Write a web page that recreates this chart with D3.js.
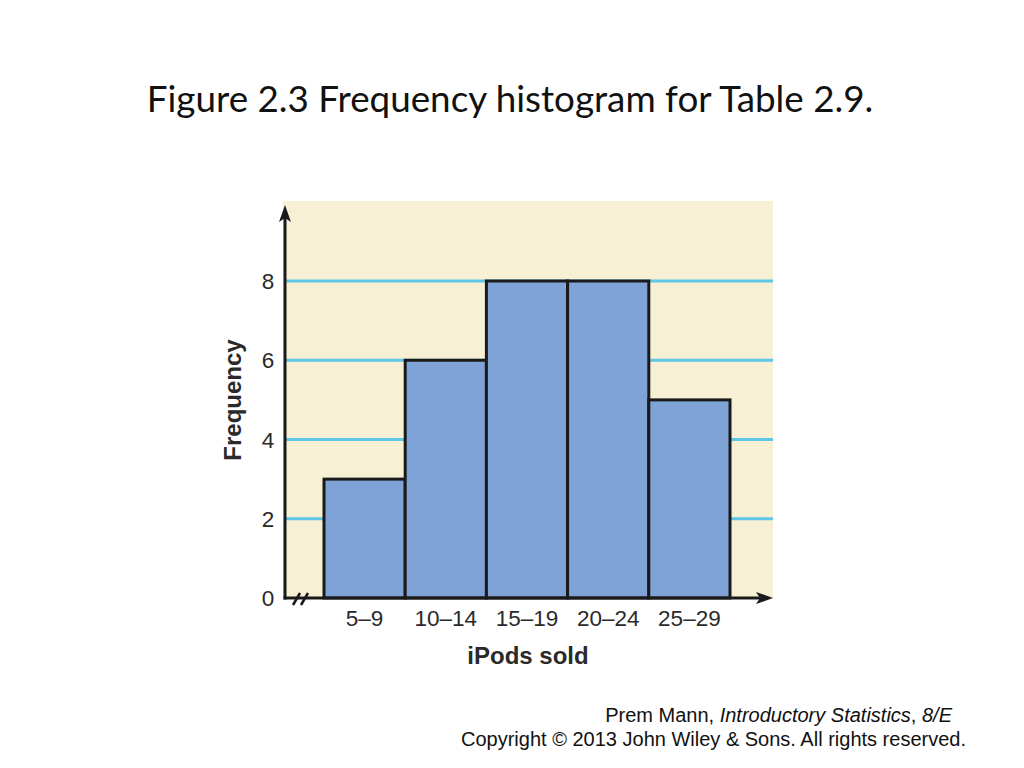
<!DOCTYPE html>
<html>
<head>
<meta charset="utf-8">
<script src="https://cdn.jsdelivr.net/npm/d3@7"></script>
<style>
  body { margin: 0; background: #fff; }
  svg { display: block; }
</style>
</head>
<body>
<svg id="chart" width="1024" height="768"></svg>
<script>
const classes = ['5–9', '10–14', '15–19', '20–24', '25–29']
const frequencies = [3, 6, 8, 8, 5]
const yTicks = [0, 2, 4, 6, 8]

const svg = d3.select('#chart')

// plot frame (pixels)
const plotLeft = 285, plotRight = 773, plotTop = 201, plotBottom = 598

const xScale = d3.scaleBand().domain(classes).range([324, 730]).padding(0)
const yScale = d3.scaleLinear().domain([0, 8]).range([plotBottom, 281])

svg.append('text')
    .attr('x', 510)
    .attr('y', 112)
    .attr('text-anchor', 'middle')
    .style('font-family', 'Lato, Carlito, sans-serif')
    .style('font-size', '36.8px')
    .style('fill', '#111')
    .text('Figure 2.3 Frequency histogram for Table 2.9.')

// panel background
svg.append('rect')
    .attr('x', plotLeft - 2).attr('y', plotTop)
    .attr('width', plotRight - plotLeft + 2).attr('height', plotBottom - plotTop)
    .style('fill', '#f7f0d4')

// gridlines
svg.append('g')
    .selectAll('line')
    .data(yTicks.filter(d => d > 0))
    .enter()
    .append('line')
    .attr('x1', plotLeft).attr('x2', plotRight)
    .attr('y1', d => yScale(d)).attr('y2', d => yScale(d))
    .style('stroke', '#5ec6e6')
    .style('stroke-width', 3)

// bars
svg.append('g')
    .selectAll('rect')
    .data(frequencies)
    .enter()
    .append('rect')
    .attr('x', (d, i) => xScale(classes[i]))
    .attr('y', d => yScale(d))
    .attr('width', xScale.bandwidth())
    .attr('height', d => yScale(0) - yScale(d))
    .style('fill', '#7fa3d6')
    .style('stroke', '#1a1a1a')
    .style('stroke-width', 3)

// axes
const axisG = svg.append('g').style('stroke', '#1a1a1a').style('stroke-width', 3)
axisG.append('line').attr('x1', plotLeft).attr('x2', plotLeft).attr('y1', plotBottom + 1.5).attr('y2', 215)
axisG.append('line').attr('x1', plotLeft - 1.5).attr('x2', 762).attr('y1', plotBottom).attr('y2', plotBottom)
svg.append('path')
    .attr('d', `M${plotLeft},${205} L${plotLeft - 6},${222} L${plotLeft},${218} L${plotLeft + 6},${222} Z`)
    .style('fill', '#1a1a1a')
svg.append('path')
    .attr('d', `M${773},${plotBottom} L${756},${plotBottom - 6} L${760},${plotBottom} L${756},${plotBottom + 6} Z`)
    .style('fill', '#1a1a1a')

// axis break marks
svg.append('g')
    .selectAll('line')
    .data([0, 8])
    .enter()
    .append('line')
    .attr('x1', d => 293 + d).attr('x2', d => 300 + d)
    .attr('y1', plotBottom + 7).attr('y2', plotBottom - 5)
    .style('stroke', '#1a1a1a')
    .style('stroke-width', 2.5)

// y tick labels
svg.append('g')
    .selectAll('text')
    .data(yTicks)
    .enter()
    .append('text')
    .attr('x', 268)
    .attr('y', d => yScale(d))
    .attr('dy', '0.36em')
    .attr('text-anchor', 'middle')
    .style('font-family', 'Liberation Sans, Arial, sans-serif')
    .style('font-size', '22.5px')
    .style('fill', '#2a2a2a')
    .text(d => d)

// x tick labels
svg.append('g')
    .selectAll('text')
    .data(classes)
    .enter()
    .append('text')
    .attr('x', d => xScale(d) + xScale.bandwidth() / 2)
    .attr('y', 626)
    .attr('text-anchor', 'middle')
    .style('font-family', 'Liberation Sans, Arial, sans-serif')
    .style('font-size', '22.5px')
    .style('fill', '#2a2a2a')
    .text(d => d)

svg.append('text')
    .attr('x', 528)
    .attr('y', 664)
    .attr('text-anchor', 'middle')
    .style('font-family', 'Liberation Sans, Arial, sans-serif')
    .style('font-size', '24px')
    .style('font-weight', 'bold')
    .style('fill', '#2a2a2a')
    .text('iPods sold')

svg.append('text')
    .attr('transform', 'translate(241,400) rotate(-90)')
    .attr('text-anchor', 'middle')
    .style('font-family', 'Liberation Sans, Arial, sans-serif')
    .style('font-size', '24px')
    .style('font-weight', 'bold')
    .style('fill', '#2a2a2a')
    .text('Frequency')

// source note
const note1 = svg.append('text')
    .attr('x', 952).attr('y', 722)
    .attr('text-anchor', 'end')
    .style('font-family', 'Liberation Sans, Arial, sans-serif')
    .style('font-size', '20px')
    .style('fill', '#111')
note1.append('tspan').text('Prem Mann, ')
note1.append('tspan').style('font-style', 'italic').text('Introductory Statistics')
note1.append('tspan').text(', ')
note1.append('tspan').style('font-style', 'italic').text('8/E')

svg.append('text')
    .attr('x', 966).attr('y', 746)
    .attr('text-anchor', 'end')
    .style('font-family', 'Liberation Sans, Arial, sans-serif')
    .style('font-size', '20px')
    .style('fill', '#111')
    .text('Copyright © 2013 John Wiley & Sons. All rights reserved.')
</script>
</body>
</html>
